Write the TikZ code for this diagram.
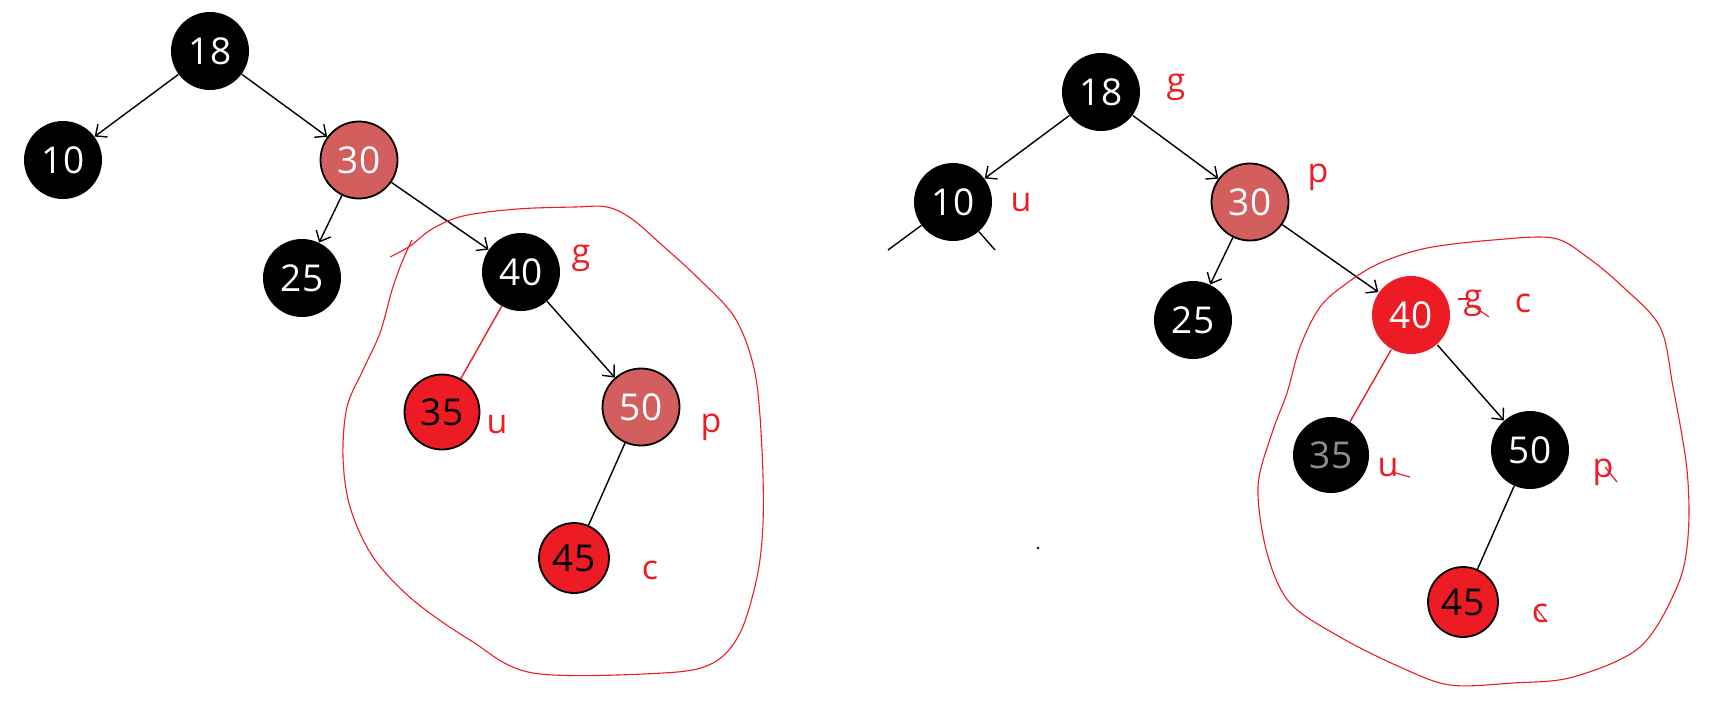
\documentclass[tikz,border=0pt]{standalone}
\usepackage{fontspec}
\setmainfont{Open Sans}
\usetikzlibrary{arrows.meta}
\definecolor{rbred}{RGB}{237,28,36}
\definecolor{rbpink}{RGB}{211,94,94}

\begin{document}
\begin{tikzpicture}[x=0.5pt,y=-0.5pt,
      every node/.style={font=\fontsize{18.5}{22}\selectfont},
      B/.style={circle,fill=black,text=white,minimum size=39pt,inner sep=0pt},
      P/.style={circle,draw=black,line width=0.9pt,fill=rbpink,text=white,minimum size=38.5pt,inner sep=0pt},
      R/.style={circle,draw=black,line width=0.9pt,fill=rbred,text=black,minimum size=37pt,inner sep=0pt},
      lbl/.style={text=rbred,inner sep=0pt,font=\fontsize{17}{20}\selectfont},
      lasso/.style={draw=rbred,line width=0.55pt},
      strike/.style={draw=rbred,line width=0.6pt},
      edge/.style={line width=0.7pt},
      >={Straight Barb[length=4.5pt,width=8pt]},
    ]
    \useasboundingbox (0,0) rectangle (1728,708);

    % left tree
    \node[B] (n18) at (210,51) {18};
    \node[B] (n10) at (63,160) {10};
    \node[P] (n30) at (359,160) {30};
    \node[B] (n25) at (302,278) {25};
    \node[B] (n40) at (521,272) {40};
    \node[R, minimum size=37.5pt] (n35) at (442,412) {35};
    \node[P] (n50) at (641,407) {50};
    \node[R, minimum size=35pt] (n45) at (574,558) {45};

    \node[lbl] (lg) at (581,258) {g};
    \node[lbl] (lu) at (497,425) {u};
    \node[lbl] (lp) at (711,427) {p};
    \node[lbl] (lc) at (650,570) {c};

    \draw[edge,->] (n18) -- (n10);
    \draw[edge,->] (n18) -- (n30);
    \draw[edge,->] (n30) -- (n25);
    \draw[edge,->] (n30) -- (n40);
    \draw[edge,->] (n40) -- (n50);
    \draw[edge,rbred] (n40) -- (n35);
    \draw[edge] (n50) -- (n45);

    \draw[lasso] plot[smooth,tension=0.55] coordinates {
      (390,257) (410,246) (432,229) (463,216) (517,209) (575,207) (607,207)
      (632,219) (663,246) (697,277) (735,318) (755,373) (762,450) (763,523)
      (757,577) (740,633) (713,663) (663,673) (533,673) (470,640) (413,600)
      (373,557) (350,507) (343,457) (347,407) (363,370) (380,333) (392,290)
      (402,262) (412,240)};

    % right tree
    \node[B] (m18) at (1101,92) {18};
    \node[B] (m10) at (953,202) {10};
    \node[P] (m30) at (1250,202) {30};
    \node[B] (m25) at (1193,320) {25};
    \node[R, fill=rbred, draw=none, text=white, minimum size=39pt] (m40) at (1411,315) {40};
    \node[B, text=black!45, minimum size=38pt] (m35) at (1331,455) {35};
    \node[B] (m50) at (1530,450) {50};
    \node[R, minimum size=35pt] (m45) at (1463,602) {45};

    \coordinate (m10l) at (888,250);
    \coordinate (m10r) at (995,250);

    \node[lbl] (rg) at (1176,87) {g};
    \node[lbl] (ru) at (1021,203) {u};
    \node[lbl] (rp) at (1318,177) {p};
    \node[lbl] (rg2) at (1473,303) {g};
    \node[lbl] (rc) at (1523,303) {c};
    \node[lbl] (ru2) at (1388,468) {u};
    \node[lbl] (rp2) at (1603,472) {p};
    \node[lbl] (rc2) at (1540,613) {c};

    \draw[edge,->] (m18) -- (m10);
    \draw[edge,->] (m18) -- (m30);
    \draw[edge,->] (m30) -- (m25);
    \draw[edge,->] (m30) -- (m40);
    \draw[edge,->] (m40) -- (m50);
    \draw[edge,rbred] (m40) -- (m35);
    \draw[edge] (m50) -- (m45);
    \draw[edge] (m10) -- (m10l);
    \draw[edge] (m10) -- (m10r);

    % strike-outs
    \draw[strike] (1458,299) -- (1470,299);
    \draw[strike] (1472,305) -- (1489,317);
    \draw[strike] (1392,472) -- (1410,477);
    \draw[strike] (1605,467) -- (1617,482);
    \draw[strike] (1535,607) -- (1547,622);

    \draw[lasso] plot[smooth cycle,tension=0.55] coordinates {
      (1553,238) (1587,257) (1623,287) (1660,327) (1673,387) (1687,470)
      (1688,537) (1677,587) (1640,647) (1573,677) (1513,683) (1450,685)
      (1400,667) (1340,637) (1290,603) (1267,553) (1258,487) (1272,433)
      (1287,393) (1300,347) (1320,307) (1347,283) (1380,263) (1427,248)
      (1493,240)};

    \fill (1038,548) circle (0.7pt);
  \end{tikzpicture}
\end{document}
